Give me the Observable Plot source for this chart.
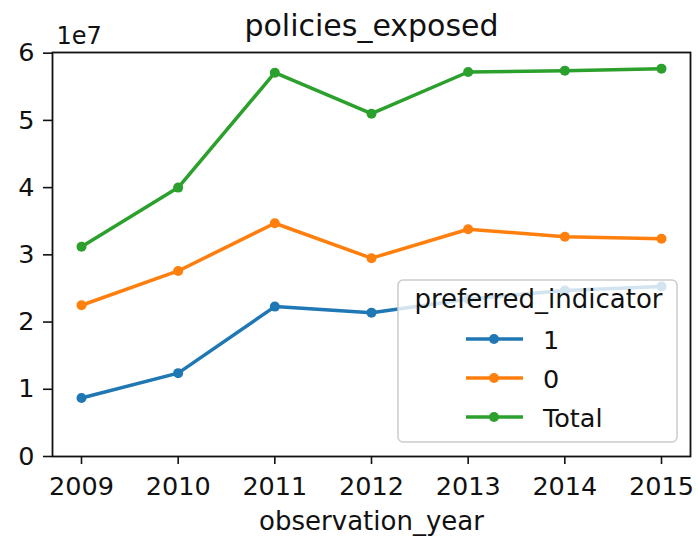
<!DOCTYPE html>
<html><head><meta charset="utf-8">
<script src="https://cdn.jsdelivr.net/npm/d3@7"></script>
<script src="https://cdn.jsdelivr.net/npm/@observablehq/plot@0.6"></script>
<style>body{margin:0;background:#fff;}</style>
</head><body><div id="chart"></div>
<script>
const years = [2009, 2010, 2011, 2012, 2013, 2014, 2015];
const seriesNames = ["1", "0", "Total"];
const pref1 = [8700000, 12400000, 22300000, 21400000, 23400000, 24700000, 25300000];
const pref0 = [22500000, 27600000, 34700000, 29500000, 33800000, 32700000, 32400000];
const total = [31200000, 40000000, 57100000, 51000000, 57200000, 57400000, 57700000];
const colors = ["#1f77b4", "#ff7f0e", "#2ca02c"];
const yTicks = [0, 10000000, 20000000, 30000000, 40000000, 50000000, 60000000];
const titleText = "policies_exposed";
const xLabel = "observation_year";
const legendTitle = "preferred_indicator";
const offsetText = "1e7";

const seriesValues = [pref1, pref0, total];
const data = [];
seriesNames.forEach((s, i) => years.forEach((yr, j) => data.push({year: yr, series: s, value: seriesValues[i][j]})));

const FONT = "DejaVu Sans, sans-serif";

function legendMark(index, scales, values, dims) {
  const g = d3.create("svg:g").attr("font-family", FONT).attr("text-anchor", "start");
  const right = dims.width - dims.marginRight - 13;
  const bottom = dims.height - dims.marginBottom - 14;
  const w = 279, h = 162;
  const x0 = right - w, y0 = bottom - h;
  g.append("rect").attr("x", x0).attr("y", y0).attr("width", w).attr("height", h)
    .attr("rx", 5).attr("fill", "white").attr("fill-opacity", 0.8)
    .attr("stroke", "#cccccc").attr("stroke-width", 1.5);
  g.append("text").attr("x", x0 + w / 2 + 1).attr("y", y0 + 28)
    .attr("text-anchor", "middle").attr("font-size", 26).attr("fill", "#111").text(legendTitle);
  seriesNames.forEach((s, i) => {
    const ly = y0 + 59 + i * 39;
    const c = scales.color(s);
    g.append("line").attr("x1", x0 + 68).attr("x2", x0 + 125).attr("y1", ly).attr("y2", ly)
      .attr("stroke", c).attr("stroke-width", 3.5);
    g.append("circle").attr("cx", x0 + 96).attr("cy", ly).attr("r", 5).attr("fill", c);
    g.append("text").attr("x", x0 + 145).attr("y", ly + 9.5).attr("text-anchor", "start")
      .attr("font-size", 25.5).attr("fill", "#111").text(s);
  });
  return g.node();
}

const chart = Plot.plot({
  width: 698,
  height: 538,
  marginLeft: 52,
  marginRight: 8,
  marginTop: 52,
  marginBottom: 82,
  style: {fontFamily: FONT, fontSize: "25.5px", color: "#111", background: "white"},
  x: {type: "linear", domain: [2008.7, 2015.3]},
  y: {domain: [0, 60100000]},
  color: {domain: seriesNames, range: colors},
  marks: [
    Plot.line(data, {x: "year", y: "value", stroke: "series", strokeWidth: 3.5}),
    Plot.dot(data, {x: "year", y: "value", fill: "series", r: 5}),
    legendMark,
    Plot.frame({stroke: "#111", strokeWidth: 1.8}),
    Plot.axisX({ticks: years, tickFormat: d => String(d), tickSize: 8, tickPadding: 12, strokeWidth: 1.6, label: null, fontSize: 25.5}),
    Plot.axisY({ticks: yTicks, tickFormat: d => String(Math.round(d / 1e7)), tickSize: 9, tickPadding: 9, strokeWidth: 1.6, label: null, fontSize: 25.5}),
    Plot.text([titleText], {frameAnchor: "top", lineAnchor: "bottom", dy: -17, fontSize: 30, fill: "#111"}),
    Plot.text([offsetText], {frameAnchor: "top-left", textAnchor: "start", lineAnchor: "bottom", dx: 4, dy: -9, fontSize: 24, fill: "#111"}),
    Plot.text([xLabel], {frameAnchor: "bottom", lineAnchor: "bottom", dy: 73, fontSize: 26, fill: "#111"})
  ]
});
document.getElementById("chart").appendChild(chart);
</script>
</body></html>
